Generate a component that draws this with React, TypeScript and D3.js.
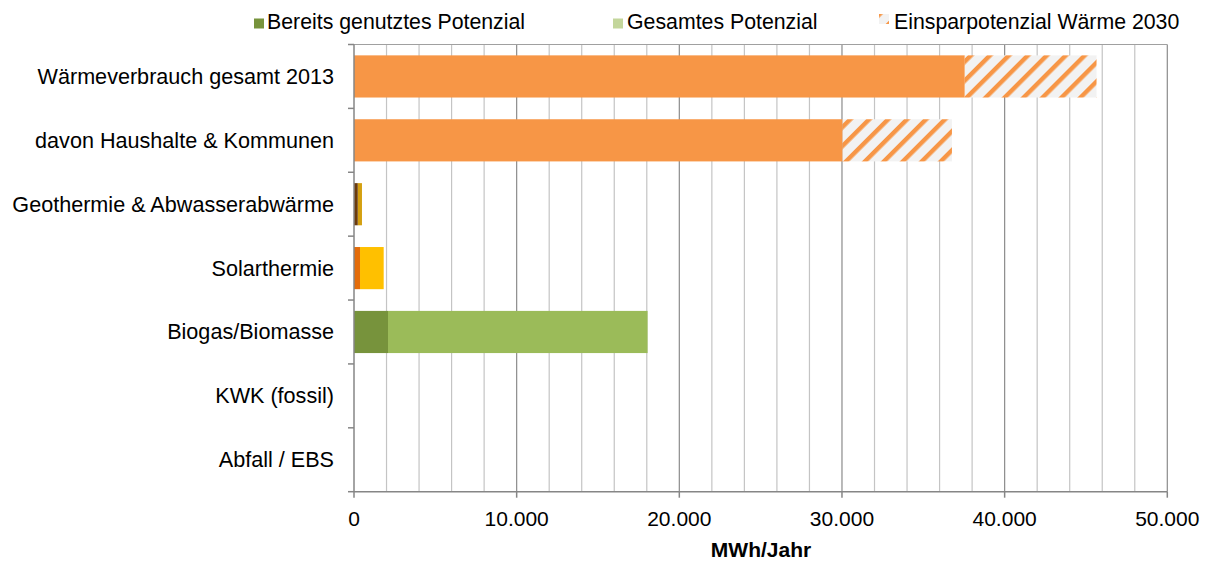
import React from "react";
import * as d3 from "d3";

const categories = [
  "Wärmeverbrauch gesamt 2013",
  "davon Haushalte & Kommunen",
  "Geothermie & Abwasserabwärme",
  "Solarthermie",
  "Biogas/Biomasse",
  "KWK (fossil)",
  "Abfall / EBS",
];
// consumption rows: base consumption and savings potential 2030
const consumption = [37550, 30040, 0, 0, 0, 0, 0];
const savings2030 = [8100, 6720, 0, 0, 0, 0, 0];
// potential rows: already used and total potential
const usedPotential = [0, 0, 230, 370, 2090, 0, 0];
const totalPotential = [0, 0, 490, 1825, 18050, 0, 0];
const usedColors = ["#f79646", "#f79646", "#6b3b0c", "#e46c0a", "#77933c", "#77933c", "#77933c"];
const totalColors = ["#f79646", "#f79646", "#d4a010", "#ffc000", "#9bbb59", "#9bbb59", "#9bbb59"];
const xTicks = [0, 10000, 20000, 30000, 40000, 50000];
const legendLabels = ["Bereits genutztes Potenzial", "Gesamtes Potenzial", "Einsparpotenzial Wärme 2030"];

const W = 1210;
const H = 561;
const FONT = "'Liberation Sans', Arial, sans-serif";
const FS = 21;
const FS_CAT = 21.6;
const FS_LEG = 21.3;

export default function App() {
  const left = 354;
  const right = 1167.3;
  const top = 44.5;
  const bottom = 491.7;

  const x = d3.scaleLinear().domain([0, 50000]).range([left, right]);
  const y = d3
    .scaleBand<string>()
    .domain(categories)
    .range([top, bottom])
    .paddingInner(0.34)
    .paddingOuter(0.17);
  const step = y.step();

  const minorTicks = d3.range(2000, 50001, 2000).filter((v) => v % 10000 !== 0);
  const fmt = (v: number) => d3.format(",")(v).replace(/,/g, ".");

  const boundaries = d3.range(0, categories.length + 1).map((i) => top + i * step);

  return (
    <svg
      width={W}
      height={H}
      style={{ position: "absolute", left: 0, top: 0, background: "#fff" }}
      fontFamily={FONT}
    >
      <defs>
        <pattern
          id="hatch"
          patternUnits="userSpaceOnUse"
          width={13.4}
          height={13.4}
          patternTransform="rotate(45)"
        >
          <rect width={13.4} height={13.4} fill="#f2f2f2" />
          <rect width={4.4} height={13.4} fill="#f79646" />
        </pattern>
      </defs>

      {/* minor gridlines */}
      {minorTicks.map((v) => (
        <line key={"m" + v} x1={x(v)} x2={x(v)} y1={top} y2={bottom} stroke="#c4c4c4" strokeWidth={1.2} />
      ))}
      {/* major gridlines */}
      {xTicks.slice(1).map((v) => (
        <line key={"M" + v} x1={x(v)} x2={x(v)} y1={top} y2={bottom} stroke="#8c8c8c" strokeWidth={1.2} />
      ))}
      {/* top border */}
      <line x1={left} x2={right} y1={top} y2={top} stroke="#a0a0a0" strokeWidth={1.2} />

      {/* bars */}
      {categories.map((c, i) => {
        const y0 = y(c)!;
        const bh = y.bandwidth();
        const els: React.ReactNode[] = [];
        if (consumption[i] > 0) {
          els.push(
            <rect key="c" x={x(0)} y={y0} width={x(consumption[i]) - x(0)} height={bh} fill="#f79646" />
          );
          els.push(
            <rect
              key="s"
              x={x(consumption[i])}
              y={y0}
              width={x(consumption[i] + savings2030[i]) - x(consumption[i])}
              height={bh}
              fill="url(#hatch)"
            />
          );
        }
        if (totalPotential[i] > 0) {
          els.push(
            <rect
              key="t"
              x={x(usedPotential[i])}
              y={y0}
              width={x(totalPotential[i]) - x(usedPotential[i])}
              height={bh}
              fill={totalColors[i]}
            />
          );
          els.push(
            <rect
              key="u"
              x={x(0)}
              y={y0}
              width={x(usedPotential[i]) - x(0)}
              height={bh}
              fill={usedColors[i]}
            />
          );
        }
        return <g key={c}>{els}</g>;
      })}

      {/* axes */}
      <line x1={left} x2={left} y1={top} y2={bottom} stroke="#868686" strokeWidth={1.5} />
      {boundaries.map((b, i) => (
        <line key={"yt" + i} x1={left - 6} x2={left} y1={b} y2={b} stroke="#868686" strokeWidth={1.5} />
      ))}
      <line x1={left} x2={right} y1={bottom} y2={bottom} stroke="#868686" strokeWidth={1.5} />
      {xTicks.map((v) => (
        <line key={"xt" + v} x1={x(v)} x2={x(v)} y1={bottom} y2={bottom + 6} stroke="#868686" strokeWidth={1.5} />
      ))}

      {/* labels */}
      {xTicks.map((v) => (
        <text key={"xl" + v} x={x(v)} y={526} textAnchor="middle" fontSize={FS} fill="#000">
          {fmt(v)}
        </text>
      ))}
      {categories.map((c) => (
        <text
          key={"cl" + c}
          x={left - 20}
          y={y(c)! + y.bandwidth() / 2 + 7.5}
          textAnchor="end"
          fontSize={FS_CAT}
          fill="#000"
        >
          {c}
        </text>
      ))}
      <text x={761} y={557} textAnchor="middle" fontSize={FS} fontWeight="bold" fill="#000">
        MWh/Jahr
      </text>

      {/* legend */}
      <g>
        <rect x={254} y={18.5} width={10} height={10} fill="#77933c" />
        <text x={267} y={29} fontSize={FS_LEG} fill="#000">
          {legendLabels[0]}
        </text>
        <rect x={613} y={18.5} width={10} height={10} fill="#c3d69b" />
        <text x={627} y={29} fontSize={FS_LEG} fill="#000">
          {legendLabels[1]}
        </text>
        <rect x={879} y={14} width={10} height={10} fill="url(#hatch)" />
        <text x={894} y={29} fontSize={FS_LEG} fill="#000">
          {legendLabels[2]}
        </text>
      </g>
    </svg>
  );
}
